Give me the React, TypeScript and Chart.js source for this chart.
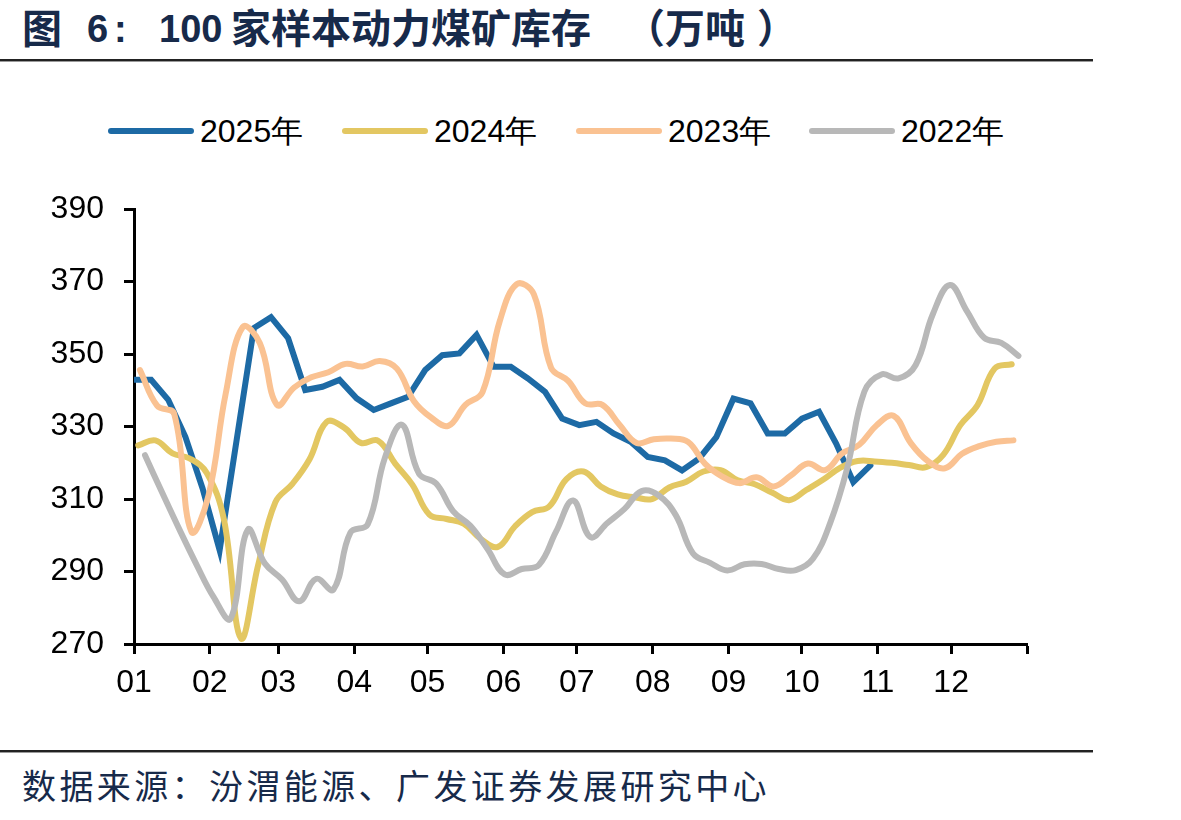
import React, { useEffect, useRef } from "react";
import { Chart, registerables } from "chart.js";

Chart.register(...registerables);

// X axis: day of year, ticks at the first day of each month
const monthLabels = ["01", "02", "03", "04", "05", "06", "07", "08", "09", "10", "11", "12"];
const monthStartDays = [0, 31, 59, 90, 120, 151, 181, 212, 243, 273, 304, 334, 365];

// Y axis range (万吨)
const yMin = 270;
const yMax = 390;
const yStep = 20;

const seriesNames = ["2025年", "2024年", "2023年", "2022年"];
const seriesColors = ["#1d6aa5", "#e3c762", "#fac292", "#b8b8b8"];

// Day of year of each series' first weekly reading
const firstDay2025 = 0;
const firstDay2024 = 1.75;
const firstDay2023 = 2.45;
const firstDay2022 = 4.5;

// Weekly inventory of 100 sample thermal coal mines (万吨)
const inv2025 = [
  342.9, 342.9, 337.4, 327.2, 313.0, 295.9, 326.5, 357.2, 360.2, 354.4, 340.1,
  341.0, 342.9, 337.8, 334.6, 336.4, 338.2, 345.6, 349.7, 350.2, 355.3, 346.5,
  346.5, 343.3, 339.6, 332.2, 330.4, 331.3, 328.1, 325.8, 321.6, 320.7, 317.9,
  321.2, 327.1, 337.7, 336.4, 328.1, 328.1, 332.2, 334.1, 325.3, 314.7, 319.3,
];
const inv2024 = [
  324.8, 326.2, 322.6, 321.2, 317.2, 304.4, 271.5, 291.8, 309.1, 314.2, 321.0,
  331.3, 329.8, 325.5, 326.1, 319.8, 314.0, 305.7, 304.5, 303.2, 299.0, 296.8,
  302.5, 306.4, 308.0, 315.5, 317.6, 313.5, 311.3, 310.5, 310.0, 313.2, 314.8,
  317.6, 318.0, 315.2, 314.1, 311.8, 309.7, 312.5, 315.4, 318.7, 320.5, 320.4,
  320.0, 319.4, 318.8, 322.2, 330.4, 335.9, 346.0, 347.2,
];
const inv2023 = [
  345.6, 335.8, 333.5, 301.0, 311.0, 339.0, 357.5, 353.0, 336.0, 340.8, 343.6,
  345.0, 347.3, 346.6, 348.1, 346.0, 337.0, 332.5, 330.2, 336.0, 339.5, 359.0,
  369.3, 366.5, 346.3, 342.6, 336.4, 336.0, 330.5, 325.5, 326.5, 326.7, 325.8,
  319.7, 316.2, 314.4, 316.0, 313.5, 316.5, 319.8, 318.0, 322.6, 325.0, 330.3,
  333.0, 325.5, 320.5, 318.5, 322.5, 324.6, 325.8, 326.2,
];
const inv2022 = [
  322.1, 311.8, 301.7, 292.0, 283.0, 277.0, 301.5, 292.2, 287.8, 281.8, 288.0,
  285.0, 300.8, 303.0, 321.3, 330.5, 317.0, 314.3, 306.6, 302.6, 296.2, 289.2,
  290.7, 291.8, 301.0, 309.6, 299.5, 303.4, 307.3, 312.2, 311.0, 305.5, 295.0,
  292.4, 290.3, 292.0, 292.1, 290.7, 290.4, 293.5, 303.3, 318.5, 339.6, 344.4,
  343.3, 347.0, 361.0, 369.1, 361.8, 354.5, 353.1, 349.5,
];

const weekly = (values: number[], firstDay: number) =>
  values.map((y, i) => ({ x: firstDay + 7 * i, y }));

const NAVY = "#172a4a";
const LATIN = "'Liberation Sans', Arial, sans-serif";
const CJK = "'Noto Sans CJK SC', 'Noto Sans', sans-serif";

export default function App() {
  const canvasRef = useRef<HTMLCanvasElement | null>(null);

  useEffect(() => {
    if (!canvasRef.current) return;
    const series = [
      { data: weekly(inv2025, firstDay2025), order: 3, smooth: false },
      { data: weekly(inv2024, firstDay2024), order: 2, smooth: true },
      { data: weekly(inv2023, firstDay2023), order: 1, smooth: true },
      { data: weekly(inv2022, firstDay2022), order: 0, smooth: true },
    ];
    const axisFont = { family: LATIN, size: 32 };
    const chart = new Chart(canvasRef.current, {
      type: "line",
      data: {
        datasets: series.map((s, i) => ({
          label: seriesNames[i],
          data: s.data,
          order: s.order,
          borderColor: seriesColors[i],
          backgroundColor: seriesColors[i],
          borderWidth: 6,
          pointRadius: 0,
          tension: s.smooth ? 0.4 : 0,
          borderCapStyle: "round",
          borderJoinStyle: s.smooth ? "round" : "miter",
          fill: false,
        })),
      },
      options: {
        animation: false,
        responsive: true,
        maintainAspectRatio: false,
        layout: { padding: { top: 39, right: 73, left: 0, bottom: 0 } },
        plugins: {
          legend: { display: false },
          tooltip: { enabled: false },
        },
        scales: {
          x: {
            type: "linear",
            min: monthStartDays[0],
            max: monthStartDays[monthStartDays.length - 1],
            afterBuildTicks: (scale: any) => {
              scale.ticks = monthStartDays.map((value) => ({ value }));
            },
            afterFit: (scale: any) => {
              scale.height = 86;
            },
            ticks: {
              autoSkip: false,
              maxRotation: 0,
              padding: 10,
              color: "#000",
              font: axisFont,
              callback: (_v: any, i: number) => monthLabels[i] ?? "",
            },
            grid: {
              drawOnChartArea: false,
              drawTicks: true,
              tickLength: 10,
              tickWidth: 3,
              tickColor: "#000",
            },
            border: { display: true, color: "#000", width: 3 },
          },
          y: {
            min: yMin,
            max: yMax,
            afterFit: (scale: any) => {
              scale.width = 134;
            },
            ticks: {
              stepSize: yStep,
              padding: 20,
              color: "#000",
              font: axisFont,
            },
            grid: {
              drawOnChartArea: false,
              drawTicks: true,
              tickLength: 10,
              tickWidth: 3,
              tickColor: "#000",
            },
            border: { display: true, color: "#000", width: 3 },
          },
        },
      },
    } as any);
    return () => chart.destroy();
  }, []);

  const legendLeft = [108, 342, 576, 809];

  return (
    <div
      style={{
        position: "absolute",
        left: 0,
        top: 0,
        width: 1181,
        height: 820,
        background: "#fff",
        overflow: "hidden",
      }}
    >
      {/* Title */}
      <span style={{ position: "absolute", left: 22, top: 6, font: `700 40px/40px ${CJK}`, color: NAVY }}>图</span>
      <span style={{ position: "absolute", left: 87, top: 10, font: `700 38px/38px ${LATIN}`, color: NAVY }}>6</span>
      <span style={{ position: "absolute", left: 114, top: 10, font: `700 38px/38px ${LATIN}`, color: NAVY }}>:</span>
      <span style={{ position: "absolute", left: 159, top: 10, font: `700 38px/38px ${LATIN}`, color: NAVY }}>100</span>
      <span style={{ position: "absolute", left: 231, top: 6, font: `700 40px/40px ${CJK}`, color: NAVY, whiteSpace: "nowrap" }}>
        家样本动力煤矿库存
      </span>
      <span style={{ position: "absolute", left: 625, top: 6, font: `700 40px/40px ${CJK}`, color: NAVY, whiteSpace: "nowrap" }}>
        （万吨
      </span>
      <span style={{ position: "absolute", left: 757, top: 6, font: `700 40px/40px ${CJK}`, color: NAVY }}>）</span>

      {/* Rule under the title */}
      <div style={{ position: "absolute", left: 0, top: 59, width: 1093, height: 2, background: "#222" }} />
      <div style={{ position: "absolute", left: 0, top: 61, width: 1093, height: 1, background: "#9a9a9a" }} />

      {/* Legend */}
      {seriesNames.map((name, i) => (
        <React.Fragment key={name}>
          <div
            style={{
              position: "absolute",
              left: legendLeft[i],
              top: 128,
              width: 86,
              height: 6,
              borderRadius: 3,
              background: seriesColors[i],
            }}
          />
          <span
            style={{
              position: "absolute",
              left: legendLeft[i] + 92,
              top: 115,
              font: `400 32px/32px ${LATIN}`,
              color: "#000",
              whiteSpace: "nowrap",
            }}
          >
            {name}
          </span>
        </React.Fragment>
      ))}

      {/* Chart */}
      <div style={{ position: "absolute", left: 0, top: 170, width: 1100, height: 560 }}>
        <canvas ref={canvasRef} />
      </div>

      {/* Rule above the source note */}
      <div style={{ position: "absolute", left: 0, top: 750, width: 1093, height: 2, background: "#222" }} />
      <div style={{ position: "absolute", left: 0, top: 752, width: 1093, height: 1, background: "#9a9a9a" }} />

      {/* Source note */}
      <span
        style={{
          position: "absolute",
          left: 22,
          top: 768,
          font: `400 34px/34px ${CJK}`,
          letterSpacing: "3.4px",
          color: NAVY,
          whiteSpace: "nowrap",
        }}
      >
        数据来源：汾渭能源、广发证券发展研究中心
      </span>
    </div>
  );
}
